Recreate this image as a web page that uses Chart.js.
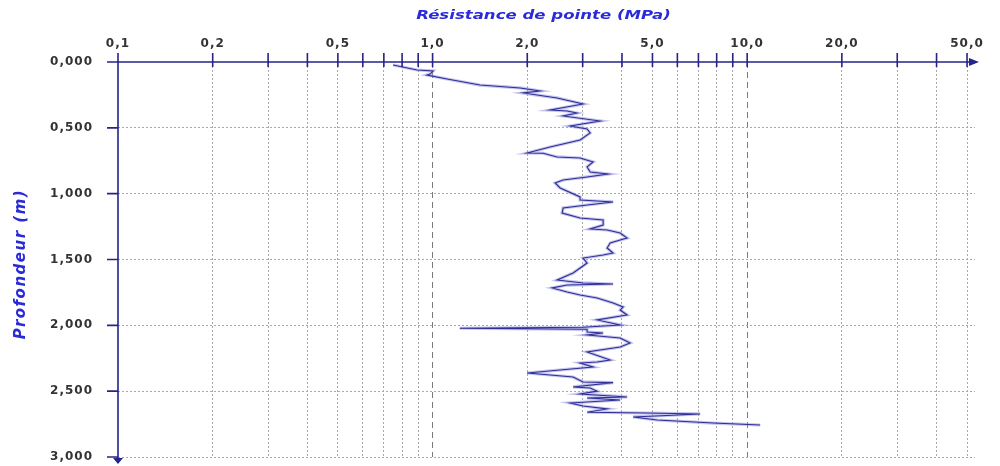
<!DOCTYPE html>
<html>
<head>
<meta charset="utf-8">
<script src="https://cdn.jsdelivr.net/npm/chart.js@4/dist/chart.umd.min.js"></script>
<style>
body { margin: 0; background: #fff; }
#wrap { width: 1000px; height: 466px; }
</style>
</head>
<body>
<div id="wrap"><canvas id="chart" width="1000" height="466"></canvas></div>
<script>
// profondeur (m) et résistance de pointe (MPa)
const depth = [
    0.023, 0.061, 0.068, 0.092, 0.099, 0.129, 0.175, 0.197, 0.220, 0.235,
    0.251, 0.273, 0.319, 0.365, 0.372, 0.387, 0.410, 0.448, 0.486, 0.509,
    0.539, 0.592, 0.646, 0.691, 0.693, 0.721, 0.729, 0.759, 0.797, 0.835,
    0.851, 0.873, 0.896, 0.919, 0.957, 1.025, 1.048, 1.056, 1.063, 1.086,
    1.109, 1.147, 1.185, 1.200, 1.238, 1.268, 1.276, 1.299, 1.337, 1.352,
    1.375, 1.413, 1.451, 1.466, 1.489, 1.527, 1.565, 1.603, 1.656, 1.678,
    1.686, 1.694, 1.716, 1.747, 1.770, 1.792, 1.830, 1.861, 1.884, 1.921,
    1.959, 1.997, 2.015, 2.022, 2.030, 2.051, 2.058, 2.073, 2.096, 2.134,
    2.165, 2.202, 2.263, 2.278, 2.286, 2.316, 2.362, 2.392, 2.430, 2.435,
    2.468, 2.476, 2.500, 2.521, 2.544, 2.552, 2.567, 2.590, 2.613, 2.635,
    2.660, 2.666, 2.673, 2.696, 2.719, 2.742, 2.757
];
const resistance = [
    0.749, 0.893, 1.004, 0.982, 0.960, 1.112, 1.416, 1.898, 2.197, 1.940,
    2.150, 2.488, 3.009, 2.363, 2.678, 2.880, 2.600, 3.409, 2.737, 3.099,
    3.169, 2.944, 2.363, 1.998, 2.246, 2.488, 2.944, 3.239, 3.099, 3.169,
    3.614, 3.099, 2.600, 2.452, 2.544, 2.944, 2.944, 3.335, 3.749, 3.099,
    2.600, 2.581, 2.944, 3.485, 3.485, 3.169, 3.588, 3.948, 4.154, 3.948,
    3.668, 3.588, 3.749, 3.485, 3.009, 3.099, 2.944, 2.797, 2.488, 3.009,
    3.749, 2.678, 2.399, 2.678, 2.944, 3.335, 3.749, 4.035, 3.948, 4.154,
    3.335, 3.948, 3.009, 1.220, 3.099, 3.099, 3.485, 3.099, 3.948, 4.246,
    3.948, 3.099, 3.668, 3.335, 2.944, 3.239, 1.998, 2.797, 3.009, 3.749,
    2.797, 3.169, 3.335, 2.944, 4.154, 3.099, 3.948, 2.737, 3.009, 3.588,
    3.099, 4.809, 7.088, 4.340, 5.173, 7.797, 10.999
];

const xTicks = [0.1, 0.2, 0.3, 0.4, 0.5, 0.6, 0.7, 0.8, 0.9, 1, 2, 3, 4, 5, 6, 7, 8, 9, 10, 20, 30, 40, 50];
const xLabels = [0.1, 0.2, 0.5, 1, 2, 5, 10, 20, 50];
const xDashed = [1, 10];
const yTicks = [0, 0.5, 1, 1.5, 2, 2.5, 3];

const axisColor = '#24248a';
const titleColor = '#2a2ad8';
const tickFont = { family: 'DejaVu Sans', size: 12, weight: 'bold' };

const points = depth.map((d, i) => ({ x: resistance[i], y: d }));

const axisDecor = {
    id: 'axisDecor',
    beforeDraw(chart) {
        chart.ctx.letterSpacing = '1px';
    },
    afterDraw(chart) {
        const { ctx, chartArea: a, scales: { x, y } } = chart;
        ctx.save();
        ctx.letterSpacing = '0px';
        ctx.strokeStyle = axisColor;
        ctx.fillStyle = axisColor;
        ctx.lineWidth = 1.6;
        ctx.beginPath();
        ctx.moveTo(a.left, a.top);
        ctx.lineTo(a.right, a.top);
        ctx.moveTo(a.left, a.top - 9);
        ctx.lineTo(a.left, a.bottom + 3);
        xTicks.forEach(v => {
            const px = x.getPixelForValue(v);
            ctx.moveTo(px, a.top - 9);
            ctx.lineTo(px, a.top + 5);
        });
        yTicks.forEach(v => {
            const py = y.getPixelForValue(v);
            ctx.moveTo(a.left - 11, py);
            ctx.lineTo(a.left, py);
        });
        ctx.stroke();

        // fleches
        ctx.beginPath();
        ctx.moveTo(a.right + 4, a.top);
        ctx.lineTo(a.right - 6, a.top - 4);
        ctx.lineTo(a.right - 6, a.top + 4);
        ctx.closePath();
        ctx.moveTo(a.left, a.bottom + 7);
        ctx.lineTo(a.left - 5, a.bottom + 1);
        ctx.lineTo(a.left + 5, a.bottom + 1);
        ctx.closePath();
        ctx.fill();

        // titres
        ctx.fillStyle = titleColor;
        ctx.textAlign = 'center';
        ctx.textBaseline = 'middle';
        ctx.save();
        ctx.translate((a.left + a.right) / 2 - 3, 16);
        ctx.scale(1.38, 1);
        ctx.font = 'italic bold 12px "DejaVu Sans"';
        ctx.fillText('Résistance de pointe (MPa)', 0, 0);
        ctx.restore();

        ctx.save();
        ctx.translate(21, 264);
        ctx.rotate(-Math.PI / 2);
        ctx.letterSpacing = '1.5px';
        ctx.font = 'italic bold 15px "DejaVu Sans"';
        ctx.fillText('Profondeur (m)', 0, 0);
        ctx.restore();

        ctx.restore();
    }
};

const ctx = document.getElementById('chart');
const myChart = new Chart(ctx, {
    type: 'scatter',
    data: {
        datasets: [{
            label: 'halo',
            data: points,
            showLine: true,
            borderColor: 'rgba(150,150,225,0.55)',
            borderWidth: 3.2,
            pointRadius: 0,
            order: 2
        }, {
            label: 'qc',
            data: points,
            showLine: true,
            borderColor: '#2e2e96',
            borderWidth: 1.1,
            pointRadius: 0,
            order: 1
        }]
    },
    options: {
        responsive: false,
        animation: false,
        layout: { padding: { left: 0, top: 0, right: 25, bottom: 9 } },
        plugins: {
            legend: { display: false },
            tooltip: { enabled: false }
        },
        scales: {
            x: {
                type: 'logarithmic',
                position: 'top',
                min: 0.1,
                max: 53,
                afterBuildTicks: scale => {
                    scale.ticks = xTicks.map(v => ({ value: v }));
                },
                afterFit: scale => { scale.height = 62; },
                ticks: {
                    autoSkip: false,
                    maxRotation: 0,
                    padding: 11,
                    color: '#333',
                    font: tickFont,
                    callback: v => xLabels.includes(v) ? v.toFixed(1).replace('.', ',') : ''
                },
                grid: {
                    drawTicks: false,
                    lineWidth: 1,
                    color: c => (c.tick && c.tick.value === 0.1) ? 'rgba(0,0,0,0)' :
                        (c.tick && xDashed.includes(c.tick.value)) ? '#7a7a7a' : '#a8a8a8'
                },
                border: {
                    display: false,
                    dash: c => (c.tick && xDashed.includes(c.tick.value)) ? [6, 4] : [2, 2]
                }
            },
            y: {
                type: 'linear',
                reverse: true,
                min: 0,
                max: 3,
                afterFit: scale => { scale.width = 118; },
                ticks: {
                    stepSize: 0.5,
                    padding: 0,
                    color: '#333',
                    font: tickFont,
                    callback: v => v.toFixed(3).replace('.', ',')
                },
                grid: {
                    drawTicks: true,
                    tickLength: 25,
                    tickColor: 'rgba(0,0,0,0)',
                    lineWidth: 1,
                    color: c => (c.tick && c.tick.value === 0) ? 'rgba(0,0,0,0)' : '#a8a8a8'
                },
                border: {
                    display: false,
                    dash: [2, 2]
                }
            }
        }
    },
    plugins: [axisDecor]
});
</script>
</body>
</html>
